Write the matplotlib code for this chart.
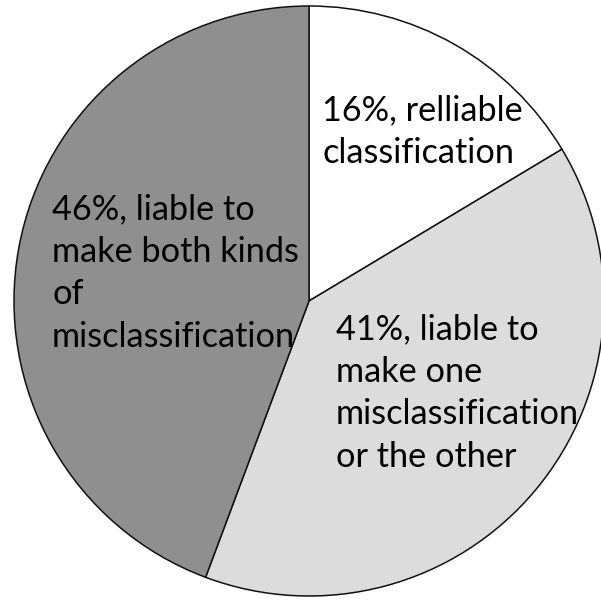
# -*- coding: utf-8 -*-
"""Pie chart: share of classifications by reliability."""
import matplotlib
matplotlib.use("Agg")
import matplotlib.pyplot as plt

# slice sizes as drawn (the printed labels round to 16/41/46)
shares = [16.4, 39.3, 44.3]
labels = [
    "16%, relliable\nclassification",
    "41%, liable to\nmake one\nmisclassification\nor the other",
    "46%, liable to\nmake both kinds\nof\nmisclassification",
]
colors = ["#ffffff", "#dcdcdc", "#8f8f8f"]

W, H = 601, 600
CX, CY, R = 309, 301, 295  # pie centre and radius in pixels (from top-left)

fig = plt.figure(figsize=(W / 100, H / 100), dpi=100)
ax = fig.add_axes([0, 0, 1, 1])
ax.axis("off")

ax.pie(
    shares,
    colors=colors,
    startangle=90,
    counterclock=False,
    radius=1.0,
    wedgeprops={"edgecolor": "#111111", "linewidth": 1.1},
)
ax.set_aspect("auto")
ax.set_xlim(-CX / R, (W - CX) / R)
ax.set_ylim(-(H - CY) / R, CY / R)

# label anchor: left x and baseline of the last line, in pixels
label_pos = [(322, 163), (336, 467), (52, 347)]
for text, (px, py) in zip(labels, label_pos):
    fig.text(
        px / W, 1 - py / H, text,
        ha="left", va="baseline",
        fontsize=24.7, family="Lato", color="#000000",
        linespacing=1.41,
    )

fig.savefig("out.png", dpi=100)
